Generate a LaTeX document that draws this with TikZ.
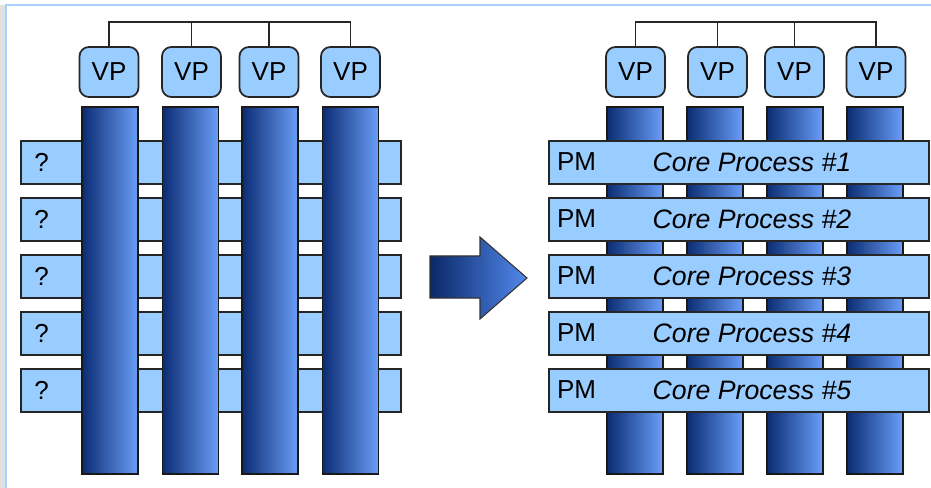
\documentclass[tikz,border=0pt]{standalone}
\usepackage{fontspec}
\setmainfont{Liberation Sans}
\begin{document}
\definecolor{boxfill}{HTML}{99CCFF}
\definecolor{frameblue}{HTML}{A8D0FF}
\definecolor{coldark}{HTML}{0B2C73}
\definecolor{colmid}{HTML}{2F63C9}
\definecolor{collight}{HTML}{6A9EF8}
\definecolor{arrowdark}{HTML}{0A2868}
\definecolor{arrowlight}{HTML}{5289EC}
\tikzset{
  vpbox/.style={draw=black!85, line width=1.3pt, fill=boxfill, rounded corners=7pt,
    minimum width={59*0.75pt}, minimum height={50*0.75pt}, inner sep=0pt,
    font=\fontsize{19.5}{21}\selectfont},
  column/.style={draw=black!90, line width=1.2pt, left color=coldark, middle color=colmid,
    right color=collight, minimum width={56*0.75pt}, minimum height={367*0.75pt},
    inner sep=0pt, anchor=north},
  rowbox/.style={draw=black!85, line width=1.2pt, fill=boxfill,
    minimum width={380*0.75pt}, minimum height={43*0.75pt}, inner sep=0pt, anchor=north west},
  lbl/.style={inner sep=0pt, font=\fontsize{19.5}{21}\selectfont},
  corelbl/.style={inner sep=0pt, font=\fontsize{20}{22}\selectfont\itshape},
  bus/.style={draw=black!85, line width=1pt}
}
\begin{tikzpicture}[x=0.75pt,y=-0.75pt]
\useasboundingbox (0,0) rectangle (931,488);
% outer frame
\fill[black!12] (0,5) rectangle (5,488);
\draw[frameblue, line width=1.6pt] (6,488) -- (6,5) -- (931,5);

% ---------- left panel: unassigned rows behind the columns ----------
\foreach \i/\y in {1/140,2/197,3/254,4/311,5/368}{
  \node[rowbox] (qrow\i) at (20,\y) {};
  \node[lbl] (q\i) at (41.5,\y+22) {?};
}
\foreach \i/\x in {1/110,2/190.5,3/270,4/350.5}{
  \node[column] (colL\i) at (\x,106) {};
}
\foreach \i/\x in {1/109,2/191.5,3/269,4/350.5}{
  \node[vpbox] (vpL\i) at (\x,72) {VP};
}
\draw[bus] (vpL1.north) -- ++(0,-24) -| (vpL4.north);
\draw[bus] (vpL2.north) -- ++(0,-24);
\draw[bus] (vpL3.north) -- ++(0,-24);

% ---------- transition arrow ----------
\shade[left color=arrowdark, right color=arrowlight, draw=black!80, line width=0.8pt]
  (430,256) -- (480,256) -- (480,237) -- (527,278) -- (480,319) -- (480,298) -- (430,298) -- cycle;

% ---------- right panel: core processes in front of the columns ----------
\foreach \i/\x in {1/635,2/715,3/795,4/875}{
  \node[column] (colR\i) at (\x,106) {};
}
\foreach \i/\x in {1/635.5,2/717.5,3/794.5,4/876}{
  \node[vpbox] (vpR\i) at (\x,72) {VP};
}
\draw[bus] (vpR1.north) -- ++(0,-24) -| (vpR4.north);
\draw[bus] (vpR2.north) -- ++(0,-24);
\draw[bus] (vpR3.north) -- ++(0,-24);
\foreach \i/\y in {1/140,2/197,3/254,4/311,5/368}{
  \node[rowbox] (prow\i) at (548,\y) {};
  \node[lbl] (pm\i) at (576.5,\y+22) {PM};
  \node[corelbl] (core\i) at (752,\y+22) {Core Process \#\i};
}
\end{tikzpicture}
\end{document}
